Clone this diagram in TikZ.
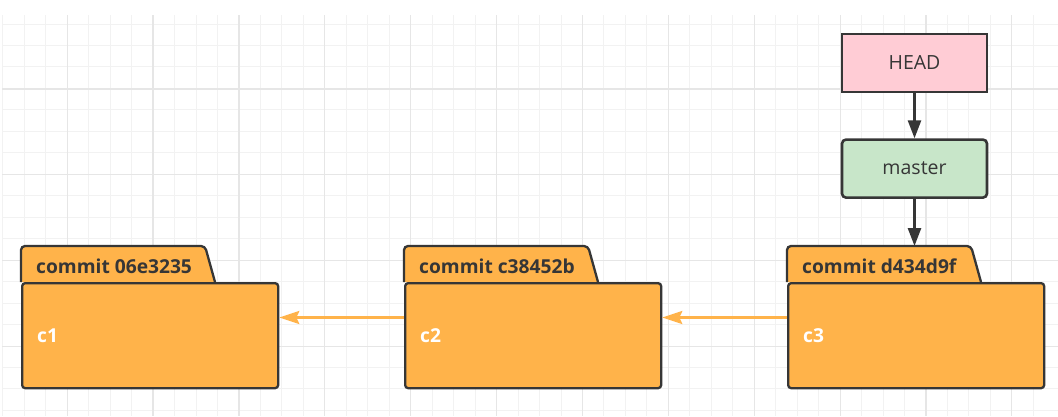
\documentclass[tikz,border=0pt]{standalone}
\usepackage{fontspec}
\setmainfont{Open Sans}
\usepackage{xcolor}
\usepackage{tikz}
\usetikzlibrary{arrows.meta, positioning}

\definecolor{linedark}{HTML}{363636}
\definecolor{commitorange}{HTML}{FFB34A}
\definecolor{headpink}{HTML}{FFCCD5}
\definecolor{mastergreen}{HTML}{C8E6C9}
\definecolor{gridminor}{HTML}{F2F2F2}
\definecolor{gridmajor}{HTML}{E6E6E6}

\tikzset{
  refbox/.style={draw=linedark, line width=2.6pt, minimum width=145pt, minimum height=58pt,
    font=\fontsize{19.5}{23}\selectfont, text=linedark},
  tabshape/.style={draw=linedark, line width=2.3pt, fill=commitorange},
  commitbody/.style={draw=linedark, line width=2.3pt, fill=commitorange, rounded corners=3pt,
    minimum height=105pt, text width=226pt, inner xsep=15pt, align=left, anchor=north west,
    font=\fontsize{19.2}{23}\selectfont\bfseries, text=white},
  tablabel/.style={anchor=west, inner sep=0pt, font=\fontsize{19.2}{23}\selectfont\bfseries, text=linedark},
  darkarrow/.style={draw=linedark, line width=2.6pt, -{Triangle[length=18pt,width=13pt]}},
  parentarrow/.style={draw=commitorange, line width=2.5pt, -{Stealth[length=20pt,width=13pt,inset=3pt]}}
}

\begin{document}
\begin{tikzpicture}[x=1pt, y=-1pt]
  \useasboundingbox[fill=white] (0,0) rectangle (1058,416);
  % Raster
  \foreach \gx in {0,...,48} \draw[gridminor, line width=1pt] ({2.8+21.47*\gx},15) -- ({2.8+21.47*\gx},416);
  \foreach \gy in {0,...,18} \draw[gridminor, line width=1pt] (2,{24+21.47*\gy}) -- (1058,{24+21.47*\gy});
  \foreach \gx in {0,...,11} \draw[gridmajor, line width=1.2pt] ({67.2+85.88*\gx},15) -- ({67.2+85.88*\gx},416);
  \foreach \gy in {0,...,3} \draw[gridmajor, line width=1.2pt] (2,{89+85.88*\gy}) -- (1058,{89+85.88*\gy});
  % Commits
  \coordinate (tab1) at (21,246);
  \coordinate (tab2) at (404,246);
  \coordinate (tab3) at (787,246);
  \filldraw[tabshape] (21,282) [rounded corners=4pt] |- (205,246) -- (215,282);
  \filldraw[tabshape] (404,282) [rounded corners=4pt] |- (588,246) -- (598,282);
  \filldraw[tabshape] (787,282) [rounded corners=4pt] |- (971,246) -- (981,282);
  \node[commitbody] (c1) at (21,282) {c1};
  \node[commitbody] (c2) at (404,282) {c2};
  \node[commitbody] (c3) at (787,282) {c3};
  \node[tablabel] (t1) at (36,266) {commit 06e3235};
  \node[tablabel] (t2) at (419,266) {commit c38452b};
  \node[tablabel] (t3) at (802,266) {commit d434d9f};
  % Zeiger
  \node[refbox, fill=headpink] (head) at (914.5,63) {HEAD};
  \node[refbox, fill=mastergreen, rounded corners=4pt, below=45pt of head] (master) {master};
  \draw[darkarrow] (head) -- (master);
  \draw[darkarrow] (master) -- (master.south |- tab3);
  % Eltern
  \draw[parentarrow] ([yshift=-35.5pt]c2.north west) -- ([yshift=-35.5pt]c1.north east);
  \draw[parentarrow] ([yshift=-35.5pt]c3.north west) -- ([yshift=-35.5pt]c2.north east);
\end{tikzpicture}
\end{document}
